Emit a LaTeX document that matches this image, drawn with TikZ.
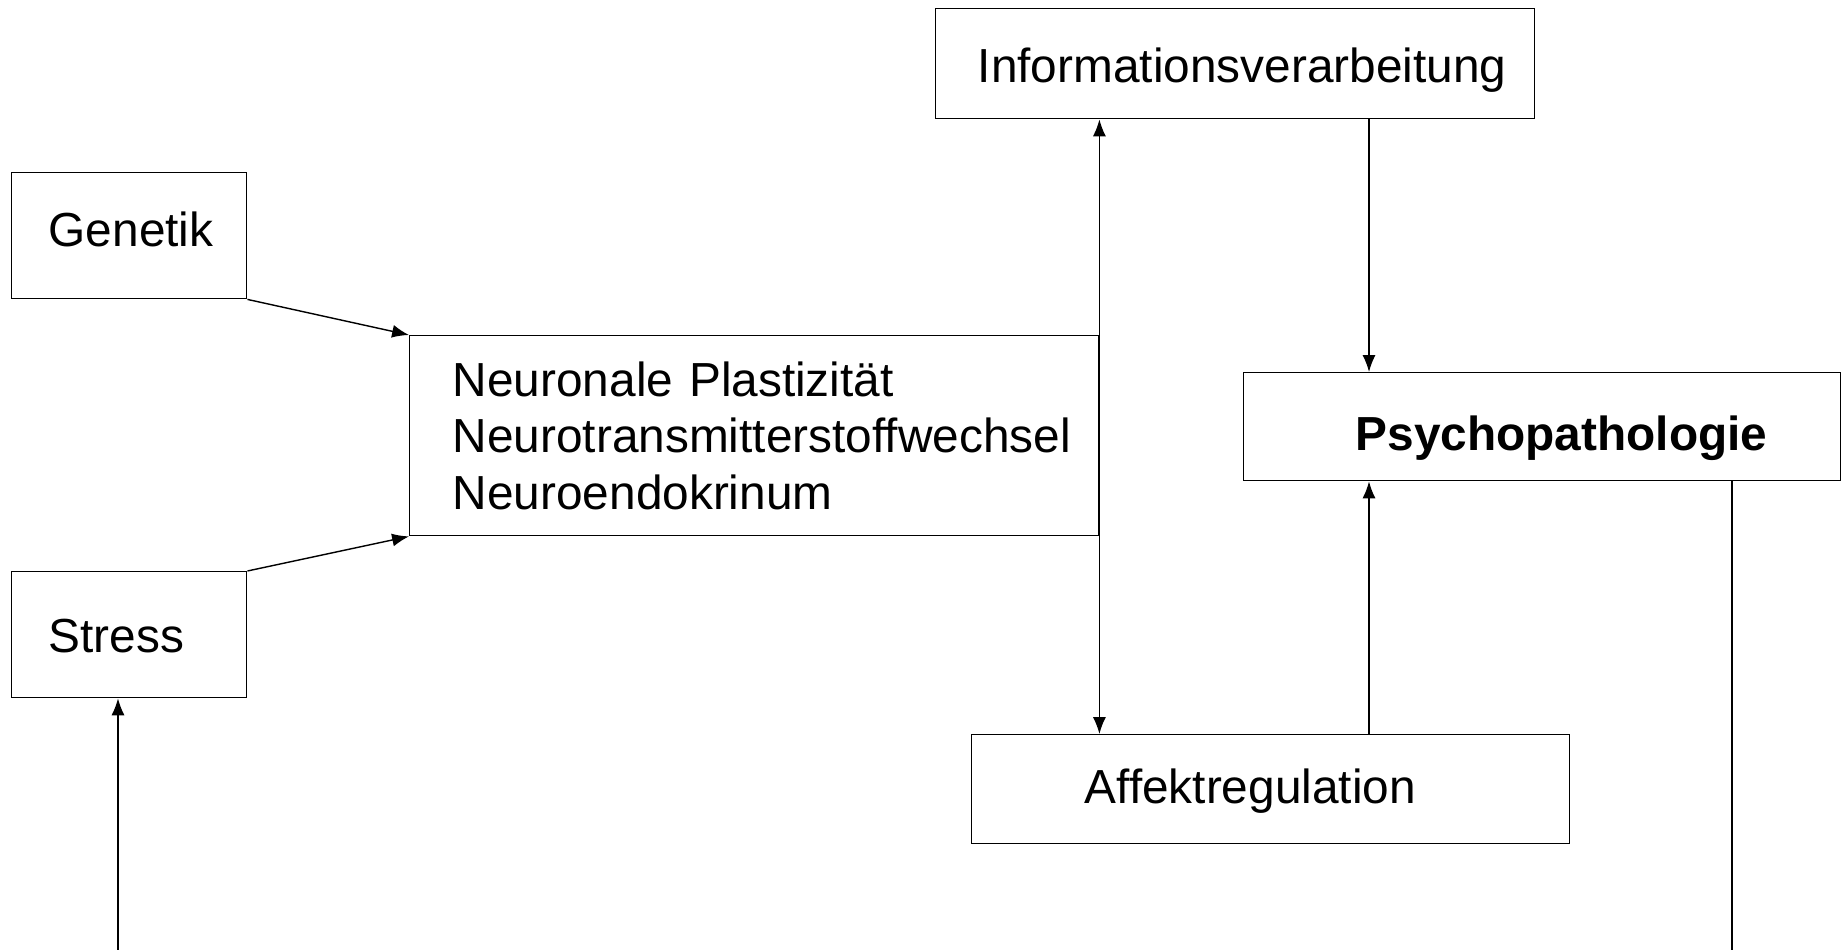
\documentclass[tikz,border=0pt]{standalone}
\usepackage{fontspec}
\setmainfont{Liberation Sans}
\usetikzlibrary{arrows.meta,positioning}

\tikzset{
	kasten/.style={draw, anchor=north west, align=left, inner ysep=0pt, font=\fontsize{13.6}{16}\selectfont},
	grundlinie/.style={text height=#1, text depth=0pt},
	>={Latex[length=4.8pt,width=3.7pt]}
}

\begin{document}
\begin{tikzpicture}
	\useasboundingbox (0,0) rectangle (18.44,-9.50);

	\node[kasten, grundlinie=10.8pt, minimum width=5.99cm, minimum height=1.10cm, inner xsep=0.42cm, text width=5.15cm] (info) at (9.35,-0.08) {Informationsverarbeitung};
	\node[kasten, grundlinie=6pt, minimum width=2.35cm, minimum height=1.26cm, inner xsep=0.37cm, text width=1.61cm] (genetik) at (0.11,-1.72) {Genetik};
	\node[kasten, minimum width=6.89cm, minimum height=2.00cm, inner xsep=0.43cm, text width=6.03cm] (neuro) at (4.09,-3.35) {Neuronale Plastizität\\Neurotransmitterstoffwechsel\\Neuroendokrinum};
	\node[kasten, grundlinie=10pt, minimum width=2.35cm, minimum height=1.26cm, inner xsep=0.37cm, text width=1.61cm] (stress) at (0.11,-5.71) {Stress};
	\node[kasten, grundlinie=13.4pt, minimum width=5.97cm, minimum height=1.08cm, inner xsep=1.12cm, text width=3.73cm] (psycho) at (12.43,-3.72) {\bfseries Psychopathologie};
	\node[kasten, grundlinie=8.2pt, minimum width=5.98cm, minimum height=1.09cm, inner xsep=1.13cm, text width=3.72cm] (affekt) at (9.71,-7.34) {Affektregulation};

	\coordinate (pfad) at (13.69,0);
	\coordinate (unten-r) at (17.32,-9.50);
	\coordinate (unten-l) at (1.18,-9.50);

	\draw[->] (genetik.south east) -- (neuro.north west);
	\draw[->] (stress.north east) -- (neuro.south west);
	\draw[<->] (info.south -| neuro.east) -- (affekt.north -| neuro.east);
	\draw[->] (info.south -| pfad) -- (psycho.north -| pfad);
	\draw[->] (affekt.north -| pfad) -- (psycho.south -| pfad);
	\draw (psycho.south -| unten-r) -- (unten-r);
	\draw[->] (unten-l) -- (stress.south -| unten-l);
\end{tikzpicture}
\end{document}
